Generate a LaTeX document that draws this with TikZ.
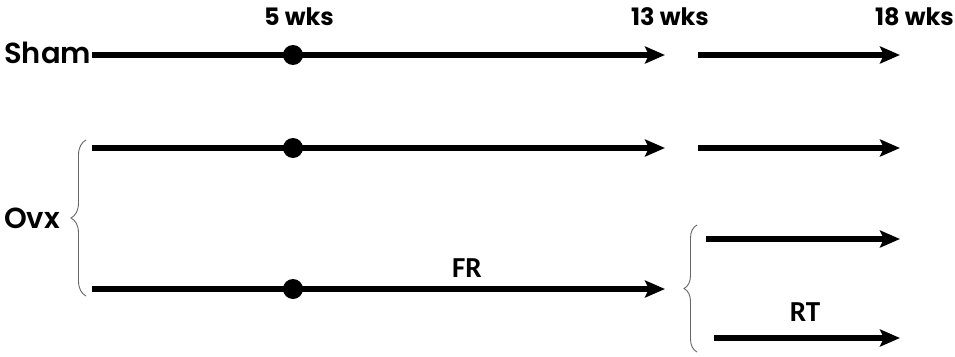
\documentclass[tikz,border=0pt]{standalone}
\usepackage{fontspec}
\setmainfont{Poppins}
\newfontfamily\semifont{Poppins SemiBold}
\newfontfamily\labfont{Carlito}[BoldFont={Carlito Bold}]
\usetikzlibrary{arrows.meta,decorations.pathreplacing}
\tikzset{
  track/.style={line width=5.5pt, -{Stealth[length=20pt,width=17pt,inset=4pt]}},
  dot/.style={circle, fill=black, inner sep=0pt, minimum size=20pt},
  group/.style={font=\semifont\fontsize{29}{32}\selectfont, inner sep=0pt},
  week/.style={font=\bfseries\fontsize{24}{28}\selectfont, inner sep=0pt},
  phase/.style={font=\labfont\bfseries\fontsize{29}{32}\selectfont, inner sep=0pt},
  bracket/.style={draw=gray!80!black, line width=0.9pt, decorate}
}
\begin{document}
\begin{tikzpicture}[x=1pt, y=-1pt]
\useasboundingbox (0,0) rectangle (955,356);

% time labels
\node[week, anchor=base] (w5) at (299,25) {5 wks};
\node[week, anchor=base] (w13) at (670,25) {13 wks};
\node[week, anchor=base east] (w18) at (954,25) {18 wks};

% group labels
\node[group, anchor=base west] (sham) at (4,63) {Sham};
\node[group, anchor=base west] (ovx) at (4,228) {Ovx};

% line end points
\coordinate (s0) at (92,55);   \coordinate (s1) at (665,55);
\coordinate (s2) at (698,55);  \coordinate (s3) at (900,55);
\coordinate (a0) at (92,148);  \coordinate (a1) at (665,148);
\coordinate (a2) at (698,148); \coordinate (a3) at (900,148);
\coordinate (b0) at (92,289);  \coordinate (b1) at (665,289);
\coordinate (c0) at (706,239); \coordinate (c1) at (900,239);
\coordinate (d0) at (714,338); \coordinate (d1) at (900,338);

% Sham
\draw[track] (s0) -- (s1);
\draw[track] (s2) -- (s3);
\node[dot] (ds) at (293,55) {};

% Ovx, first line
\draw[track] (a0) -- (a1);
\draw[track] (a2) -- (a3);
\node[dot] (da) at (293,148) {};

% Ovx, FR line
\draw[track] (b0) -- (b1);
\node[dot] (db) at (293,289) {};
\node[phase, anchor=base] (fr) at (467,277) {FR};

% after 13 weeks
\draw[track] (c0) -- (c1);
\draw[track] (d0) -- (d1);
\node[phase, anchor=base] (rt) at (805,321) {RT};

% braces
\draw[bracket, decoration={brace, amplitude=15pt, aspect=0.5}] (86,296) -- (86,140);
\draw[bracket, decoration={brace, amplitude=13pt, aspect=0.5}] (697,352) -- (697,225);
\end{tikzpicture}
\end{document}
